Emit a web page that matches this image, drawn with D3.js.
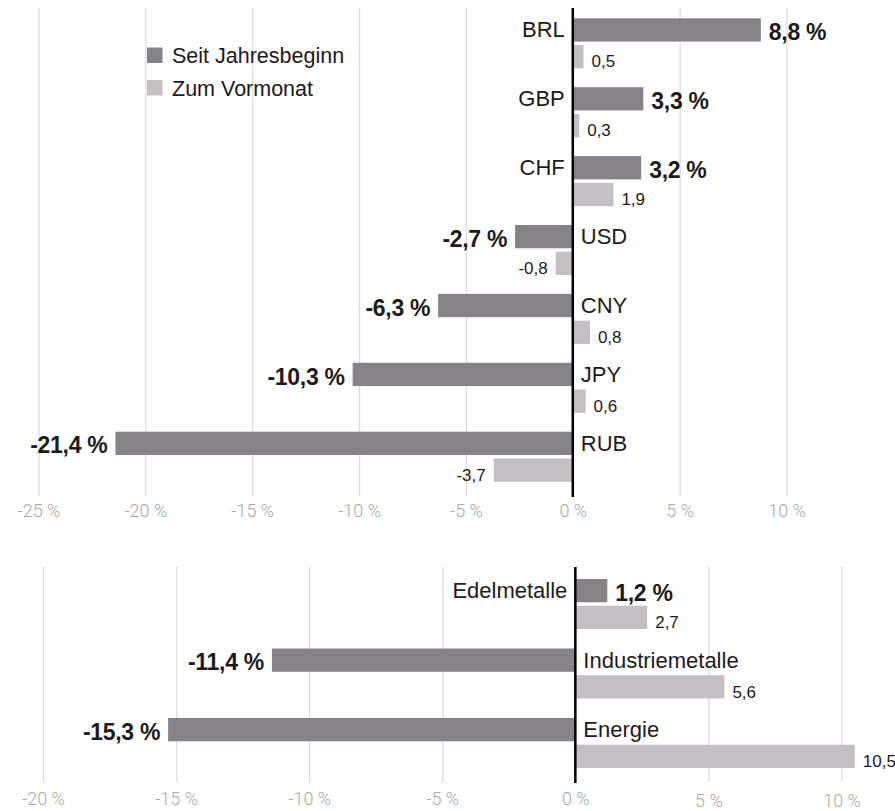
<!DOCTYPE html>
<html>
<head>
<meta charset="utf-8">
<script src="https://cdn.jsdelivr.net/npm/d3@7"></script>
<style>
  html, body { margin: 0; padding: 0; background: #fff; }
  svg { display: block; }
  .lab { font-family: "Liberation Sans", Arial, Helvetica, sans-serif; fill: #1d1a1b; }
  .tick text { font-family: Roboto, "Liberation Sans", sans-serif; font-weight: 300; fill: #a9a9a9; }
</style>
</head>
<body>
<svg id="chart" width="895" height="811"></svg>
<script>
// ---- data ----
const categoriesFx = ["BRL", "GBP", "CHF", "USD", "CNY", "JPY", "RUB"];
const ytdFx = [8.8, 3.3, 3.2, -2.7, -6.3, -10.3, -21.4];
const momFx = [0.5, 0.3, 1.9, -0.8, 0.8, 0.6, -3.7];
const ticksFx = [-25, -20, -15, -10, -5, 0, 5, 10];

const categoriesCmd = ["Edelmetalle", "Industriemetalle", "Energie"];
const ytdCmd = [1.2, -11.4, -15.3];
const momCmd = [2.7, 5.6, 10.5];
const ticksCmd = [-20, -15, -10, -5, 0, 5, 10];

const seriesNames = ["Seit Jahresbeginn", "Zum Vormonat"];

// ---- styles ----
const colDark = "#858388";
const colLight = "#c3bfc3";
const colGrid = "#dcdcdc";

const de = d3.formatLocale({decimal: ",", thousands: ".", grouping: [3], currency: ["", " €"], minus: "-"});
const f1 = de.format(".1f");
const f0 = de.format("d");

const svg = d3.select("#chart");

function panel(cfg) {
  const x = d3.scaleLinear().domain(cfg.domain).range(cfg.range);
  const rows = cfg.cats.map((c, i) => ({cat: c, ytd: cfg.ytd[i], mom: cfg.mom[i]}));
  const y = d3.scaleBand().domain(cfg.cats).range([cfg.barTop, cfg.barTop + cfg.step * cfg.cats.length]).padding(0);
  const sub = d3.scaleBand().domain(["ytd", "mom"]).range([0, 50]).paddingInner(0.13);
  const g = svg.append("g");

  // grid + tick labels via axis
  const axis = d3.axisBottom(x).tickValues(cfg.ticks).tickSize(cfg.gridBottom - cfg.gridTop)
    .tickFormat(d => f0(d) + " %");
  const ax = g.append("g").attr("transform", `translate(0,${cfg.gridTop})`).call(axis);
  ax.select(".domain").remove();
  ax.selectAll(".tick line").attr("stroke", colGrid).attr("stroke-width", 1.3);
  ax.selectAll(".tick text")
    .attr("dy", null)
    .attr("y", d => cfg.labelBaseline - cfg.gridTop + (cfg.posShift && d > 0 ? cfg.posShift : 0))
    .attr("font-size", 18);

  const grp = g.selectAll("g.row").data(rows).join("g").attr("class", "row")
    .attr("transform", d => `translate(0,${y(d.cat)})`);

  grp.append("rect")
    .attr("x", d => x(Math.min(0, d.ytd)))
    .attr("width", d => Math.abs(x(d.ytd) - x(0)))
    .attr("y", sub("ytd")).attr("height", sub.bandwidth())
    .attr("fill", colDark);
  grp.append("rect")
    .attr("x", d => x(Math.min(0, d.mom)))
    .attr("width", d => Math.abs(x(d.mom) - x(0)))
    .attr("y", sub("mom")).attr("height", sub.bandwidth())
    .attr("fill", colLight);

  // category labels, opposite side of ytd bar
  grp.append("text").attr("class", "lab")
    .attr("x", d => d.ytd >= 0 ? x(0) - 8 : x(0) + 8)
    .attr("y", sub("ytd") + 19)
    .attr("text-anchor", d => d.ytd >= 0 ? "end" : "start")
    .attr("font-size", 22)
    .text(d => d.cat);

  // bold ytd value labels
  grp.append("text").attr("class", "lab")
    .attr("x", d => d.ytd >= 0 ? x(d.ytd) + 8 : x(d.ytd) - 8)
    .attr("y", sub("ytd") + sub.bandwidth() - 1.5)
    .attr("text-anchor", d => d.ytd >= 0 ? "start" : "end")
    .attr("font-size", 23).attr("font-weight", "bold")
    .attr("letter-spacing", -0.3)
    .text(d => f1(d.ytd) + " %");

  // small mom value labels
  grp.append("text").attr("class", "lab")
    .attr("x", d => d.mom >= 0 ? x(d.mom) + 8 : x(d.mom) - 8)
    .attr("y", sub("mom") + sub.bandwidth() - 1)
    .attr("text-anchor", d => d.mom >= 0 ? "start" : "end")
    .attr("font-size", 17)
    .text(d => f1(d.mom));

  // zero line
  g.append("line")
    .attr("x1", x(0)).attr("x2", x(0))
    .attr("y1", cfg.gridTop).attr("y2", cfg.gridBottom + 1)
    .attr("stroke", "#000").attr("stroke-width", 2.5);
}

panel({
  cats: categoriesFx, ytd: ytdFx, mom: momFx, ticks: ticksFx,
  domain: [-25, 10], range: [38.5, 786.5],
  barTop: 18.3, step: 68.9,
  gridTop: 8, gridBottom: 496, labelBaseline: 517
});

panel({
  cats: categoriesCmd, ytd: ytdCmd, mom: momCmd, ticks: ticksCmd,
  domain: [-20, 10], range: [43, 841.5],
  barTop: 579, step: 69.5,
  gridTop: 567, gridBottom: 782, labelBaseline: 804.5, posShift: 2
});

// legend
const leg = svg.append("g").attr("transform", "translate(147,47.5)");
const legItems = leg.selectAll("g").data(seriesNames).join("g")
  .attr("transform", (d, i) => `translate(0,${i * 32.5})`);
legItems.append("rect").attr("width", 15.5).attr("height", 15.5)
  .attr("fill", (d, i) => i === 0 ? colDark : colLight);
legItems.append("text").attr("class", "lab")
  .attr("x", 25).attr("y", 15.5).attr("font-size", 21.5)
  .text(d => d);
</script>
</body>
</html>
